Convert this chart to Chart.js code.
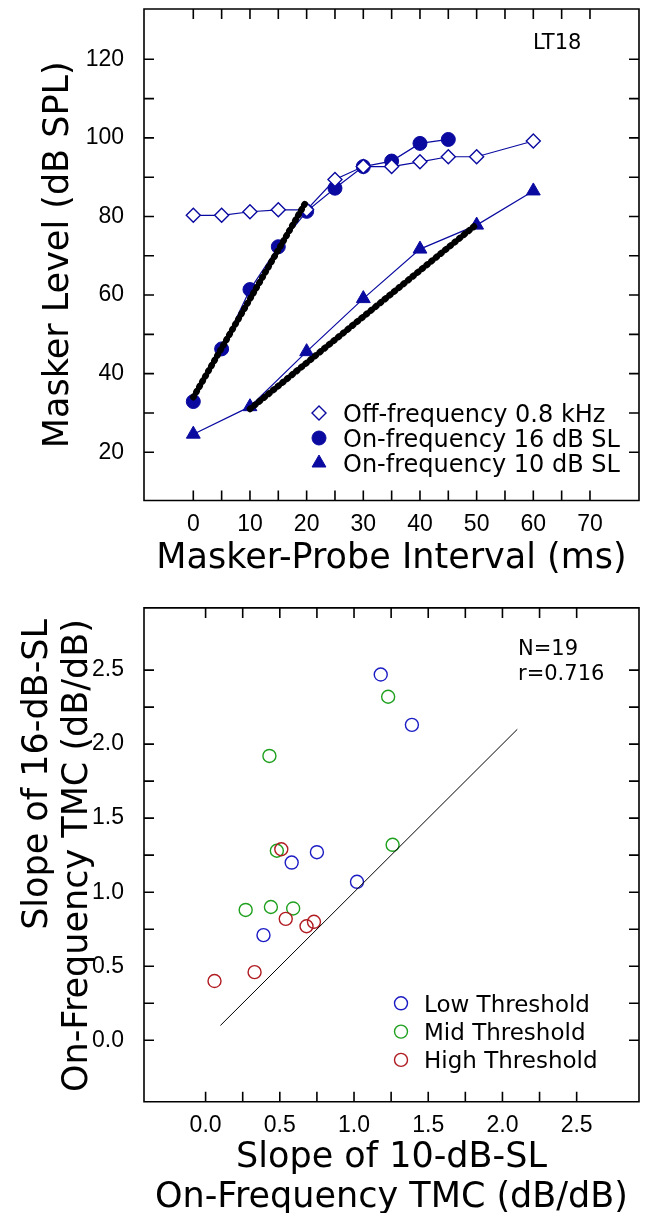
<!DOCTYPE html>
<html>
<head>
<meta charset="utf-8">
<script src="https://cdn.jsdelivr.net/npm/chart.js@4.4.1/dist/chart.umd.min.js"></script>
<style>
  html, body { margin: 0; padding: 0; background: #fff; overflow: hidden; }
  #wrap { position: relative; width: 648px; height: 1213px; }
  #grafico1 { position: absolute; left: 0; top: 0; }
  #grafico2 { position: absolute; left: 0; top: 600px; }
</style>
</head>
<body>
<div id="wrap">
  <canvas id="grafico1" width="648" height="600"></canvas>
  <canvas id="grafico2" width="648" height="640"></canvas>
</div>
<script>
// Grafico 1 - nivel do masker x intervalo
const offX = [0, 5, 10, 15, 20, 25, 30, 35, 40, 45, 50, 60]
const offY = [80.3, 80.3, 81.2, 81.7, 81.7, 89.4, 92.7, 92.7, 93.9, 95.2, 95.2, 99.2]
const on16X = [0, 5, 10, 15, 20, 25, 30, 35, 40, 45]
const on16Y = [32.9, 46.3, 61.4, 72.3, 81.3, 87.2, 92.7, 94.1, 98.6, 99.6]
const on10X = [0, 10, 20, 30, 40, 50, 60]
const on10Y = [24.6, 31.6, 45.6, 59.1, 71.7, 77.8, 86.5]
const fit16X = [0, 20]
const fit16Y = [34, 84]
const fit10X = [10, 50]
const fit10Y = [31, 78]
const xTicks1 = [0, 70, 10, 5]     // primeiro, ultimo, passo label, passo marca
const yTicks1 = [20, 120, 20, 10]

// Grafico 2 - slopes
const lowX = [1.18, 1.39, 0.58, 0.75, 1.02, 0.39]
const lowY = [2.47, 2.13, 1.20, 1.27, 1.07, 0.71]
const midX = [1.23, 0.43, 0.48, 1.26, 0.27, 0.44, 0.59]
const midY = [2.32, 1.92, 1.28, 1.32, 0.88, 0.90, 0.89]
const highX = [0.51, 0.54, 0.68, 0.73, 0.33, 0.06]
const highY = [1.29, 0.82, 0.77, 0.80, 0.46, 0.40]
const diagX = [0.1, 2.1]
const diagY = [0.1, 2.1]
const ticks2 = [0, 2.5, 0.5, 0.25]

const azul = '#0a0aa0'
const fonteTick = { family: 'Liberation Sans', size: 23 }

function pontos(xs, ys) {
  return xs.map((x, i) => ({ x: x, y: ys[i] }))
}

// moldura e marcas para dentro, nos 4 lados
const moldura = {
  id: 'moldura',
  afterDatasetsDraw(chart, args, opts) {
    const ctx = chart.ctx
    const a = chart.chartArea
    const x = chart.scales.x
    const y = chart.scales.y
    ctx.save()
    ctx.strokeStyle = '#000'
    ctx.lineWidth = 1.6
    ctx.beginPath()
    ctx.rect(a.left, a.top, a.right - a.left, a.bottom - a.top)
    let n = Math.round((opts.x[1] - opts.x[0]) / opts.x[3])
    for (let i = 0; i <= n; i++) {
      const px = x.getPixelForValue(opts.x[0] + i * opts.x[3])
      ctx.moveTo(px, a.top); ctx.lineTo(px, a.top + 10)
      ctx.moveTo(px, a.bottom); ctx.lineTo(px, a.bottom - 10)
    }
    n = Math.round((opts.y[1] - opts.y[0]) / opts.y[3])
    for (let i = 0; i <= n; i++) {
      const py = y.getPixelForValue(opts.y[0] + i * opts.y[3])
      ctx.moveTo(a.left, py); ctx.lineTo(a.left + 10, py)
      ctx.moveTo(a.right, py); ctx.lineTo(a.right - 10, py)
    }
    ctx.stroke()
    ctx.restore()
  }
}

// legenda e textos dentro do grafico
const legenda = {
  id: 'legenda',
  afterDraw(chart, args, opts) {
    const ctx = chart.ctx
    ctx.save()
    ctx.textBaseline = 'alphabetic'
    ctx.textAlign = 'left'
    ctx.fillStyle = '#000'
    ctx.font = opts.fonte
    opts.itens.forEach((idx, i) => {
      const ds = chart.data.datasets[idx]
      const cy = opts.y0 + i * opts.dy
      ctx.fillStyle = ds.pointBackgroundColor
      ctx.strokeStyle = ds.pointBorderColor
      ctx.lineWidth = ds.pointBorderWidth
      Chart.helpers.drawPoint(ctx, {
        pointStyle: ds.pointStyle, radius: ds.pointRadius,
        borderWidth: ds.pointBorderWidth, rotation: 0
      }, opts.xm, cy)
      ctx.fillStyle = '#000'
      ctx.fillText(ds.label, opts.xt, cy + opts.base)
    })
    opts.notas.forEach(t => {
      ctx.font = t[3]
      ctx.fillText(t[0], t[1], t[2])
    })
    ctx.restore()
  }
}

function escalaX(min, max, t, titulo, altura, pad) {
  return {
    type: 'linear', min: min, max: max,
    grid: { display: false }, border: { display: false },
    ticks: { stepSize: t[2], includeBounds: false, font: fonteTick, color: '#000',
             padding: 2, maxRotation: 0, autoSkip: false,
             callback: v => (t[2] < 1 ? v.toFixed(1) : v) },
    title: { display: true, text: titulo, color: '#000',
             font: { family: 'DejaVu Sans', size: 35, lineHeight: 40 / 35 },
             padding: { top: 0, bottom: pad } },
    afterFit: s => { s.height = altura; s.paddingLeft = 0; s.paddingRight = 0 }
  }
}

function escalaY(min, max, t, titulo, pad, alinha) {
  return {
    type: 'linear', min: min, max: max,
    grid: { display: false }, border: { display: false },
    ticks: { stepSize: t[2], includeBounds: false, font: fonteTick, color: '#000',
             padding: 12, autoSkip: false,
             callback: v => (t[2] < 1 ? v.toFixed(1) : v) },
    title: { display: true, text: titulo, color: '#000', align: alinha,
             font: { family: 'DejaVu Sans', size: 35, lineHeight: 40 / 35 },
             padding: { top: pad, bottom: 0 } },
    afterFit: s => { s.width = 144; s.paddingTop = 0; s.paddingBottom = 0 }
  }
}

Chart.defaults.font.family = 'DejaVu Sans'

// Grafico 1

const ctx1 = document.getElementById('grafico1')

new Chart(ctx1, {
  type: 'scatter',
  data: {
    datasets: [{
      label: 'fit 16',
      data: pontos(fit16X, fit16Y),
      showLine: true, pointRadius: 0,
      borderColor: '#000', borderWidth: 6.5, borderDash: [1, 5], borderCapStyle: 'round',
      order: 0
    }, {
      label: 'fit 10',
      data: pontos(fit10X, fit10Y),
      showLine: true, pointRadius: 0,
      borderColor: '#000', borderWidth: 6.5, borderDash: [1, 5], borderCapStyle: 'round',
      order: 0
    }, {
      label: 'Off-frequency 0.8 kHz',
      data: pontos(offX, offY),
      showLine: true, borderColor: azul, borderWidth: 1.2,
      pointStyle: 'rectRot', pointRadius: 7, pointBorderWidth: 1.4,
      pointBackgroundColor: '#fff', pointBorderColor: azul,
      order: 1
    }, {
      label: 'On-frequency 16 dB SL',
      data: pontos(on16X, on16Y),
      showLine: true, borderColor: azul, borderWidth: 1.2,
      pointStyle: 'circle', pointRadius: 7, pointBorderWidth: 1,
      pointBackgroundColor: azul, pointBorderColor: azul,
      order: 2
    }, {
      label: 'On-frequency 10 dB SL',
      data: pontos(on10X, on10Y),
      showLine: true, borderColor: azul, borderWidth: 1.2,
      pointStyle: 'triangle', pointRadius: 8, pointBorderWidth: 1,
      pointBackgroundColor: azul, pointBorderColor: azul,
      order: 3
    }]
  },
  options: {
    responsive: false,
    animation: false,
    devicePixelRatio: 1,
    events: [],
    layout: { padding: { top: 6, right: 9, left: 0, bottom: 0 } },
    plugins: {
      legend: { display: false },
      tooltip: { enabled: false },
      moldura: { x: xTicks1, y: yTicks1 },
      legenda: {
        itens: [2, 3, 4], xm: 319, xt: 343, y0: 413, dy: 25, base: 8.8,
        fonte: '24px "DejaVu Sans"',
        notas: [['LT18', 533, 49.4, '21px "DejaVu Sans"']]
      }
    },
    scales: {
      x: escalaX(-8.7, 78.65, xTicks1, 'Masker-Probe Interval (ms)', 99.5, 21),
      y: escalaY(7.72, 132.8, yTicks1, 'Masker Level (dB SPL)', 39, 'center')
    }
  },
  plugins: [moldura, legenda]
});

// Grafico 2

const ctx2 = document.getElementById('grafico2')

new Chart(ctx2, {
  type: 'scatter',
  data: {
    datasets: [{
      label: 'linha',
      data: pontos(diagX, diagY),
      showLine: true, pointRadius: 0,
      borderColor: '#000', borderWidth: 1,
      order: 0
    }, {
      label: 'Low Threshold',
      data: pontos(lowX, lowY),
      pointStyle: 'circle', pointRadius: 6.5, pointBorderWidth: 1.4,
      pointBackgroundColor: 'rgba(0,0,0,0)', pointBorderColor: '#1c1cc4',
      order: 3
    }, {
      label: 'Mid Threshold',
      data: pontos(midX, midY),
      pointStyle: 'circle', pointRadius: 6.5, pointBorderWidth: 1.4,
      pointBackgroundColor: 'rgba(0,0,0,0)', pointBorderColor: '#1fa01f',
      order: 2
    }, {
      label: 'High Threshold',
      data: pontos(highX, highY),
      pointStyle: 'circle', pointRadius: 6.5, pointBorderWidth: 1.4,
      pointBackgroundColor: 'rgba(0,0,0,0)', pointBorderColor: '#b01c22',
      order: 1
    }]
  },
  options: {
    responsive: false,
    animation: false,
    devicePixelRatio: 1,
    events: [],
    layout: { padding: { top: 6.7, right: 9, left: 0, bottom: 0 } },
    plugins: {
      legend: { display: false },
      tooltip: { enabled: false },
      moldura: { x: ticks2, y: ticks2 },
      legenda: {
        itens: [1, 2, 3], xm: 401, xt: 424, y0: 403.3, dy: 28.3, base: 8.4,
        fonte: '23px "DejaVu Sans"',
        notas: [['N=19', 518, 55, '21px "DejaVu Sans"'],
                ['r=0.716', 518, 80.4, '21px "DejaVu Sans"']]
      }
    },
    scales: {
      x: escalaX(-0.415, 2.92, ticks2, ['Slope of 10-dB-SL', 'On-Frequency TMC (dB/dB)'], 138.3, 22),
      y: escalaY(-0.415, 2.92, ticks2, ['Slope of 16-dB-SL ', 'On-Frequency TMC (dB/dB) '], 18, 'end')
    }
  },
  plugins: [moldura, legenda]
});
</script>
</body>
</html>
